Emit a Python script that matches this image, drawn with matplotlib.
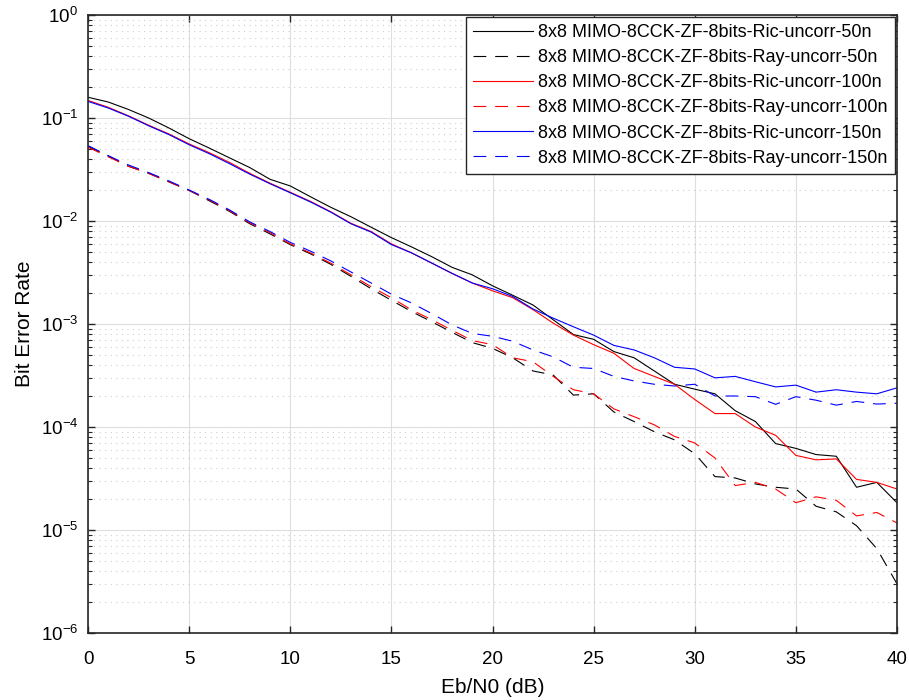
import numpy as np
import matplotlib
matplotlib.use("Agg")
import matplotlib.pyplot as plt

plt.rcParams['font.family'] = ['Liberation Sans', 'DejaVu Sans']
plt.rcParams['axes.unicode_minus'] = False

# Eb/N0 axis (dB)
ebn0 = np.arange(0, 41)

# BER curves
ric_50n = [0.159, 0.143, 0.121, 0.100, 0.080, 0.063, 0.051, 0.041, 0.033, 0.0254,
           0.0219, 0.0172, 0.0136, 0.011, 0.0087, 0.0069, 0.0056, 0.0045, 0.00355, 0.0030,
           0.00235, 0.0019, 0.00153, 0.0011, 0.00079, 0.00071, 0.00054, 0.00047, 0.00035, 0.00026,
           0.000233, 0.00021, 0.000144, 0.000113, 6.9e-5, 6.2e-5, 5.4e-5, 5.2e-5, 2.6e-5, 2.9e-5,
           1.84e-5]
ray_50n = [0.053, 0.043, 0.034, 0.029, 0.024, 0.0198, 0.0157, 0.0124, 0.0094, 0.0075,
           0.0059, 0.0048, 0.0038, 0.0029, 0.0022, 0.0017, 0.00132, 0.00105, 0.00083, 0.00066,
           0.00058, 0.00047, 0.00035, 0.00032, 0.000204, 0.00021, 0.00014, 0.000113, 9e-5, 7.5e-5,
           5.5e-5, 3.3e-5, 3.2e-5, 2.8e-5, 2.6e-5, 2.5e-5, 1.7e-5, 1.5e-5, 1.1e-5, 6.6e-6,
           3e-6]
ric_100n = [0.148, 0.127, 0.105, 0.085, 0.070, 0.056, 0.046, 0.037, 0.029, 0.0233,
            0.019, 0.0155, 0.0123, 0.0095, 0.0079, 0.0060, 0.0049, 0.0039, 0.0031, 0.0025,
            0.0021, 0.0018, 0.00138, 0.00102, 0.00078, 0.00063, 0.00052, 0.00037, 0.00031, 0.00026,
            0.000185, 0.000135, 0.000135, 0.0001, 8.3e-5, 5.3e-5, 4.8e-5, 4.9e-5, 3.1e-5, 2.9e-5,
            2.5e-5]
ray_100n = [0.052, 0.042, 0.034, 0.029, 0.024, 0.0198, 0.016, 0.0126, 0.0096, 0.0077,
            0.006, 0.0049, 0.0039, 0.003, 0.0023, 0.0018, 0.00137, 0.0011, 0.00087, 0.00069,
            0.00063, 0.00047, 0.00043, 0.00031, 0.00023, 0.00021, 0.00015, 0.000126, 0.000105, 8.1e-5,
            7e-5, 5e-5, 2.7e-5, 2.9e-5, 2.5e-5, 1.84e-5, 2.1e-5, 1.94e-5, 1.37e-5, 1.48e-5,
            1.17e-5]
ric_150n = [0.145, 0.125, 0.104, 0.084, 0.069, 0.055, 0.045, 0.036, 0.0285, 0.023,
            0.0188, 0.0153, 0.0122, 0.0094, 0.0078, 0.0059, 0.0049, 0.0039, 0.0031, 0.0025,
            0.0022, 0.00185, 0.0014, 0.00114, 0.00094, 0.00078, 0.00062, 0.00056, 0.00047, 0.00038,
            0.000366, 0.0003, 0.00031, 0.000275, 0.000245, 0.000255, 0.000218, 0.00023, 0.000218, 0.00021,
            0.00024]
ray_150n = [0.054, 0.043, 0.035, 0.0295, 0.0245, 0.020, 0.0162, 0.0128, 0.0098, 0.0079,
            0.0062, 0.0051, 0.0041, 0.0032, 0.0025, 0.00195, 0.0016, 0.00126, 0.00098, 0.00081,
            0.00076, 0.00068, 0.00056, 0.00048, 0.00038, 0.00037, 0.00031, 0.00028, 0.00026, 0.00025,
            0.00026, 0.0002, 0.0002, 0.000197, 0.000166, 0.000197, 0.000182, 0.000163, 0.000177, 0.000167,
            0.00017]

labels = [
    "8x8 MIMO-8CCK-ZF-8bits-Ric-uncorr-50n",
    "8x8 MIMO-8CCK-ZF-8bits-Ray-uncorr-50n",
    "8x8 MIMO-8CCK-ZF-8bits-Ric-uncorr-100n",
    "8x8 MIMO-8CCK-ZF-8bits-Ray-uncorr-100n",
    "8x8 MIMO-8CCK-ZF-8bits-Ric-uncorr-150n",
    "8x8 MIMO-8CCK-ZF-8bits-Ray-uncorr-150n",
]

fig = plt.figure(figsize=(9.09, 7), dpi=100)
ax = fig.add_axes([88 / 909, 67 / 700, 809 / 909, 618 / 700])

dash = (0, (11.5, 8))
series = [
    (ric_50n, 'k', '-'),
    (ray_50n, 'k', dash),
    (ric_100n, '#ff0000', '-'),
    (ray_100n, '#ff0000', dash),
    (ric_150n, '#0000ff', '-'),
    (ray_150n, '#0000ff', dash),
]
for (vals, col, ls), lab in zip(series, labels):
    ax.semilogy(ebn0, vals, color=col, linestyle=ls, linewidth=0.8, label=lab)

ax.set_xlim(0, 40)
ax.set_ylim(1e-6, 1)
ax.set_xticks(np.arange(0, 41, 5))

ax.grid(True, which='major', color='#dedede', linewidth=0.8, linestyle='-')
ax.grid(True, which='minor', axis='y', color='#cdcdcd', linewidth=0.8, linestyle=(0, (1, 4)))
ax.set_axisbelow(True)

ax.tick_params(which='both', direction='in', top=True, right=True, labelsize=13.5, color='#262626')
ax.tick_params(which='major', length=5, width=1)
ax.tick_params(which='minor', length=3, width=0.8)
ax.tick_params(axis='x', which='minor', bottom=False, top=False)
ax.tick_params(axis='x', pad=13)
ax.tick_params(axis='y', pad=7)
for sp in ax.spines.values():
    sp.set_linewidth(1.2)
    sp.set_color('#262626')

ax.set_xlabel("Eb/N0 (dB)", fontsize=15, labelpad=7)
ax.set_ylabel("Bit Error Rate", fontsize=15, labelpad=5)

leg = ax.legend(loc='upper right', fontsize=13, handlelength=3.3, borderaxespad=0.1,
                fancybox=False, framealpha=1, edgecolor='#262626', labelspacing=0.45,
                borderpad=0.4, handletextpad=0.3)
leg.get_frame().set_linewidth(1.0)

fig.savefig("out.png", dpi=100)
